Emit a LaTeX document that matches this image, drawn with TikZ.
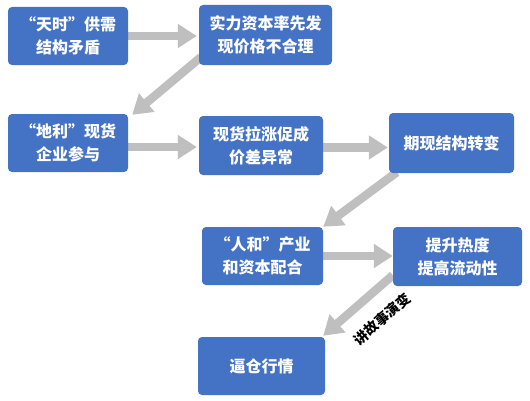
\documentclass[tikz,border=0pt]{standalone}
\usepackage{fontspec}
\setmainfont{Noto Sans CJK SC}
\usetikzlibrary{arrows.meta,calc,backgrounds}
\definecolor{boxblue}{HTML}{4472C4}
\definecolor{arrgray}{HTML}{BFBFBF}
\begin{document}
\begin{tikzpicture}[x=1pt,y=1pt,
  box/.style={fill=boxblue, rounded corners=4pt, text=white, align=center, inner sep=0pt,
    font=\bfseries\fontsize{16}{23}\selectfont},
  blk/.style={draw=arrgray, line width=8.5pt, -{Triangle[width=23pt,length=19pt]}},
  lbl/.style={font=\bfseries\fontsize{14}{14}\selectfont, text=black}]
\useasboundingbox (0,0) rectangle (530,400);
\node[box, minimum width=120pt, minimum height=58pt] (b1) at (68,364) {“天时”供需\\结构矛盾};
\node[box, minimum width=133pt, minimum height=60pt] (b2) at (265.5,365) {实力资本率先发\\现价格不合理};
\node[box, minimum width=120pt, minimum height=58pt] (b3) at (68,257) {“地利”现货\\企业参与};
\node[box, minimum width=124pt, minimum height=59pt] (b4) at (261,254.5) {现货拉涨促成\\价差异常};
\node[box, minimum width=125pt, minimum height=60pt] (b5) at (451.5,257) {期现结构转变};
\node[box, minimum width=121pt, minimum height=58pt] (b6) at (262.5,144) {“人和”产业\\和资本配合};
\node[box, minimum width=129pt, minimum height=59pt] (b7) at (457.5,143.5) {提升热度\\提高流动性};
\node[box, minimum width=127pt, minimum height=58pt] (b8) at (261.5,34) {逼仓行情};
\node[lbl, rotate=41] (l1) at (382,81) {讲故事演变};
\begin{pgfonlayer}{background}
\draw[blk, shorten >=2pt] (b1.east) -- (b1.east -| b2.west);
\draw[blk] ($(b2.south west)+(2,8)$) -- ($(b3.north east)+(4,-1)$);
\draw[blk, shorten >=2pt] ($(b3.east)+(0,-4)$) coordinate (a3) -- (a3 -| b4.west);
\draw[blk, shorten >=1pt] ($(b4.east)+(0,-2)$) coordinate (a4) -- (a4 -| b5.west);
\draw[blk] ($(b5.south west)+(8,1)$) -- ($(b6.north east)+(0,0)$);
\draw[blk, shorten >=0pt] (b6.east) -- (b6.east -| b7.west);
\draw[blk] ($(b7.south west)+(0,11)$) -- ($(b8.north east)+(-2,1)$);
\end{pgfonlayer}
\end{tikzpicture}
\end{document}
